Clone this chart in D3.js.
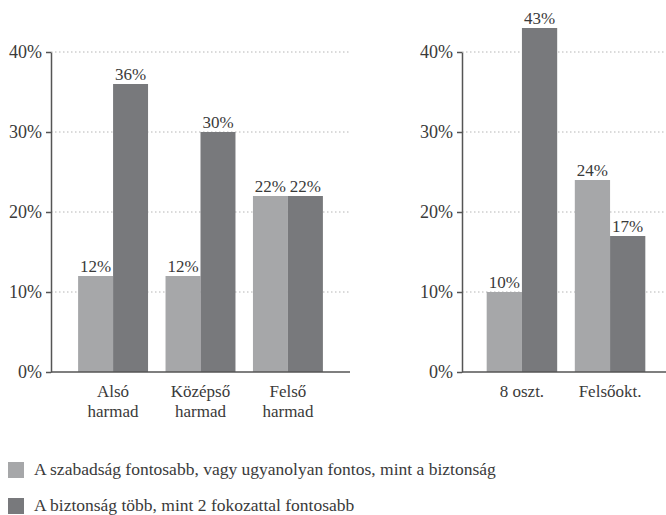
<!DOCTYPE html>
<html>
<head>
<meta charset="utf-8">
<script src="https://cdn.jsdelivr.net/npm/d3@7"></script>
<style>
  body { margin: 0; background: #fff; }
  svg text { font-family: "Liberation Serif", "DejaVu Serif", serif; fill: #3a3a3a; }
</style>
</head>
<body>
<svg id="chart" width="666" height="515"></svg>
<script>
// data
const leftGroups = ['Alsó\nharmad', 'Középső\nharmad', 'Felső\nharmad']
const leftFree = [12, 12, 22]
const leftSecure = [36, 30, 22]

const rightGroups = ['8 oszt.', 'Felsőokt.']
const rightFree = [10, 24]
const rightSecure = [43, 17]

const seriesNames = [
    'A szabadság fontosabb, vagy ugyanolyan fontos, mint a biztonság',
    'A biztonság több, mint 2 fokozattal fontosabb'
]
const yTicks = [0, 10, 20, 30, 40]

const colors = ['#a6a7a9', '#78797c']
const serif = '"Liberation Serif", "DejaVu Serif", serif'

const svg = d3.select('#chart')

const y = d3.scaleLinear().domain([0, 40]).range([372, 52])

// draws one panel of grouped bars
function drawPanel(groups, free, secure, x0, x1, padOuter) {
    const g = svg.append('g')

    const x = d3.scaleBand()
        .domain(groups)
        .range([x0, x1])
        .paddingInner(0.2)
        .paddingOuter(padOuter)

    const xs = d3.scaleBand()
        .domain([0, 1])
        .range([0, x.bandwidth()])

    // dotted gridlines
    g.selectAll('.grid')
        .data(yTicks.filter(d => d > 0))
        .enter()
        .append('line')
        .attr('x1', x0)
        .attr('x2', x1)
        .attr('y1', d => y(d))
        .attr('y2', d => y(d))
        .attr('stroke', '#b5b5b5')
        .attr('stroke-width', 1)
        .attr('stroke-dasharray', '1.5,2.5')

    const rows = groups.map((name, i) => ({name, vals: [free[i], secure[i]]}))

    const grp = g.selectAll('.grp')
        .data(rows)
        .enter()
        .append('g')
        .attr('transform', d => `translate(${x(d.name)},0)`)

    grp.selectAll('rect')
        .data(d => d.vals.map((v, k) => ({v, k})))
        .enter()
        .append('rect')
        .attr('x', d => xs(d.k))
        .attr('width', xs.bandwidth())
        .attr('y', d => y(d.v))
        .attr('height', d => y(0) - y(d.v))
        .attr('fill', d => colors[d.k])

    grp.selectAll('.val')
        .data(d => d.vals.map((v, k) => ({v, k})))
        .enter()
        .append('text')
        .attr('x', d => xs(d.k) + xs.bandwidth() / 2)
        .attr('y', d => y(d.v) - 4)
        .attr('text-anchor', 'middle')
        .attr('font-family', serif)
        .attr('font-size', 17)
        .text(d => d.v + '%')

    // y axis
    const yAxis = g.append('g')
        .attr('transform', `translate(${x0},0)`)
        .call(d3.axisLeft(y).tickValues(yTicks).tickFormat(d => d + '%').tickSize(5).tickSizeOuter(0))
    yAxis.attr('font-family', serif)
    yAxis.select('.domain').attr('stroke', '#555').attr('stroke-width', 1.5)
    yAxis.selectAll('.tick line').attr('stroke', '#555').attr('stroke-width', 1.5)
    yAxis.selectAll('.tick text')
        .attr('font-size', 18)
        .attr('fill', '#3a3a3a')
        .attr('x', -9)

    // x axis line
    g.append('line')
        .attr('x1', x0)
        .attr('x2', x1)
        .attr('y1', y(0))
        .attr('y2', y(0))
        .attr('stroke', '#555')
        .attr('stroke-width', 1.5)

    // category labels
    const lab = g.selectAll('.cat')
        .data(groups)
        .enter()
        .append('text')
        .attr('x', d => x(d) + x.bandwidth() / 2)
        .attr('y', 397)
        .attr('text-anchor', 'middle')
        .attr('font-family', serif)
        .attr('font-size', 17)

    lab.selectAll('tspan')
        .data(d => d.split('\n'))
        .enter()
        .append('tspan')
        .attr('x', function () { return d3.select(this.parentNode).attr('x') })
        .attr('dy', (d, i) => i ? 20 : 0)
        .text(d => d)
}

drawPanel(leftGroups, leftFree, leftSecure, 51, 350, 0.31)
drawPanel(rightGroups, rightFree, rightSecure, 462, 670, 0.28)

// legend
const legend = svg.append('g')
    .selectAll('g')
    .data(seriesNames)
    .enter()
    .append('g')
    .attr('transform', (d, i) => `translate(8,${462 + i * 36})`)

legend.append('rect')
    .attr('width', 16)
    .attr('height', 16)
    .attr('fill', (d, i) => colors[i])

legend.append('text')
    .attr('x', 26)
    .attr('y', 13)
    .attr('font-family', serif)
    .attr('font-size', 17.5)
    .text(d => d)
</script>
</body>
</html>
